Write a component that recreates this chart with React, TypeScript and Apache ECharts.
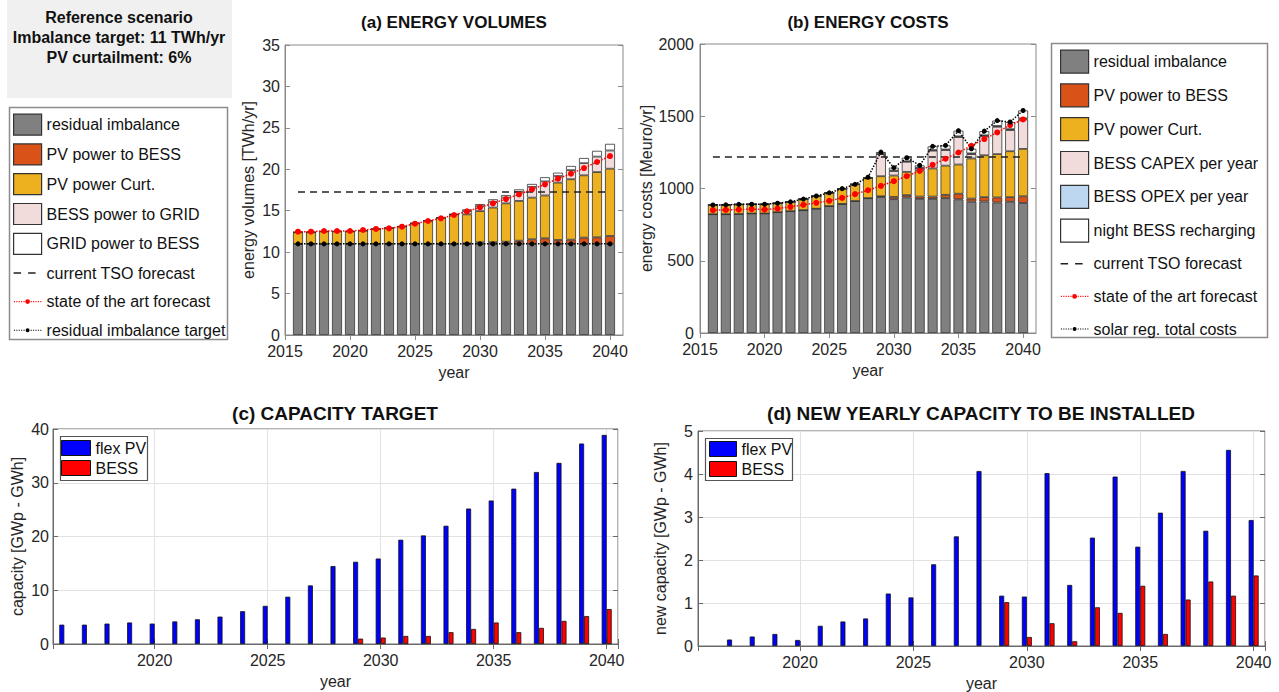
import React, { useEffect, useRef } from "react";
import * as echarts from "echarts";

// ---------- data ----------
const years = [2016, 2017, 2018, 2019, 2020, 2021, 2022, 2023, 2024, 2025, 2026, 2027, 2028,
  2029, 2030, 2031, 2032, 2033, 2034, 2035, 2036, 2037, 2038, 2039, 2040];
const catsAB = ["2015", ...years.map(String), "2041"];

// (a) energy volumes [TWh/yr]
const residualA = [11, 11, 11, 11, 11, 11, 11, 11, 11, 11, 11, 11, 11, 11, 11, 11, 11, 11, 11, 11, 11, 11, 11, 11, 11];
const pvToBessA = [0, 0, 0, 0, 0, 0, 0, 0, 0, 0, 0, 0, 0, 0.06, 0.19, 0.2, 0.26, 0.38, 0.55, 0.67, 0.47, 0.5, 0.75, 0.79, 0.95];
const curtA = [1.4, 1.4, 1.5, 1.5, 1.5, 1.6, 1.8, 1.9, 2.1, 2.48, 2.8, 3.16, 3.56, 3.5, 3.76, 4.18, 4.63, 4.8, 5.03, 5.17, 6.92, 7.3, 7.52, 7.87, 8.12];
const bessToGridA = [0, 0, 0, 0, 0, 0, 0, 0, 0, 0, 0, 0, 0, 0.4, 0.6, 0.7, 0.7, 1.1, 1.3, 1.7, 0.8, 1.1, 1.47, 1.87, 2.2];
const gridToBessA = [0, 0, 0, 0, 0, 0, 0, 0, 0, 0, 0, 0, 0, 0.2, 0.25, 0.3, 0.3, 0.3, 0.35, 0.5, 0.4, 0.5, 0.62, 0.7, 0.8];
const stateArtA = [12.47, 12.47, 12.55, 12.55, 12.55, 12.67, 12.8, 12.87, 13.07, 13.43, 13.76, 14.08, 14.48, 14.92, 15.4, 15.89, 16.41, 16.97, 17.58, 18.18, 18.87, 19.47, 20.15, 20.88, 21.6];
const targetA = [11, 11, 11, 11, 11, 11, 11, 11, 11, 11, 11, 11, 11, 11, 11, 11, 11, 11, 11, 11, 11, 11, 11, 11, 11];
const TSO_A = 17.25;

// (b) energy costs [Meuro/yr]
const residualB = [822, 822, 823, 827, 827, 836, 843, 850, 860, 878, 893, 913, 933, 941, 926, 938, 928, 928, 933, 925, 909, 910, 903, 908, 900];
const pvToBessB = [0, 0, 0, 0, 0, 0, 0, 0, 0, 0, 0, 0, 0, 5, 16, 16, 16, 16, 23, 39, 21, 30, 35, 32, 46];
const curtB = [64, 65, 67, 64, 64, 62, 65, 77, 88, 92, 106, 116, 139, 139, 148, 161, 181, 195, 202, 202, 278, 290, 300, 318, 328];
const capexB = [0, 0, 0, 0, 0, 0, 0, 0, 0, 0, 0, 0, 0, 153, 31, 70, 15, 123, 108, 190, 30, 133, 189, 146, 204];
const opexB = [0, 0, 0, 0, 0, 0, 0, 0, 0, 0, 0, 0, 0, 3, 3, 3, 3, 4, 4, 5, 5, 5, 6, 7, 7];
const nightB = [0, 0, 0, 0, 0, 0, 0, 0, 0, 0, 0, 0, 6, 11, 20, 25, 17, 26, 28, 39, 32, 29, 37, 49, 55];
const stateArtB = [850, 852, 854, 857, 854, 861, 873, 887, 901, 915, 935, 961, 988, 1018, 1051, 1085, 1122, 1164, 1206, 1249, 1296, 1342, 1388, 1439, 1478];
const TSO_B = 1218;

// (c) capacity target [GWp - GWh]
const flexPvC = [3.6, 3.6, 3.8, 4.0, 3.8, 4.2, 4.6, 5.1, 6.1, 7.1, 8.8, 10.9, 14.5, 15.3, 15.9, 19.4, 20.2, 22.0, 25.2, 26.7, 28.9, 32.0, 33.7, 37.3, 38.9];
const bessC = [0, 0, 0, 0, 0, 0, 0, 0, 0, 0, 0, 0, 0, 1.0, 1.2, 1.5, 1.5, 2.2, 2.8, 4.0, 2.2, 3.0, 4.3, 5.2, 6.5];

// (d) new yearly capacity [GWp - GWh]
const flexPvD = [0, 0.15, 0.22, 0.28, 0.14, 0.47, 0.57, 0.64, 1.22, 1.13, 1.9, 2.55, 4.07, 1.17, 1.15, 4.02, 1.42, 2.52, 3.94, 2.31, 3.1, 4.07, 2.68, 4.56, 2.93];
const bessD = [0, 0, 0, 0, 0, 0, 0, 0, 0, 0, 0, 0, 0, 1.02, 0.21, 0.53, 0.11, 0.9, 0.77, 1.4, 0.28, 1.08, 1.5, 1.17, 1.64];

// ---------- styling ----------
const FONT = '"Liberation Sans", Arial, Helvetica, sans-serif';
const GRAY = "#808080";
const ORANGE = "#D95319";
const YELLOW = "#EDB120";
const PINK = "#F2DCDB";
const LBLUE = "#BED7F0";
const EDGE = "#333333";
const AXC = "#8a8a8a";
const LBC = "#262626";

const pad = (v: number[]) => [null, ...v, null];
const is5 = (_: number, v: string) => Number(v) % 5 === 0;

function dashIcon(h: number) {
  const c = h / 2;
  return `path://M0 0L0 0M28 ${h}L28 ${h}M0 ${c - 0.8}h7.5v1.6h-7.5zM14.5 ${c - 0.8}h7.5v1.6h-7.5z`;
}
function dotIcon(h: number, r: number) {
  const c = h / 2;
  let d = `M0 0L0 0M28 ${h}L28 ${h}`;
  for (let x = 0.3; x < 27.5; x += 2.4) {
    if (Math.abs(x + 0.5 - 14) < r + 1.2) continue;
    d += `M${x.toFixed(2)} ${(c - 0.55).toFixed(2)}h1.1v1.1h-1.1z`;
  }
  d += `M${14 - r} ${c}a${r} ${r} 0 1 0 ${2 * r} 0a${r} ${r} 0 1 0 ${-2 * r} 0z`;
  return "path://" + d;
}

const nameStyle = { fontSize: 16, color: LBC, fontFamily: FONT };

function catX(gridIndex: number, top: boolean) {
  return {
    type: "category", gridIndex, position: top ? "top" : "bottom", data: catsAB, boundaryGap: false,
    axisLine: { show: !top, lineStyle: { color: AXC } },
    axisTick: { show: true, inside: true, length: 5, interval: is5, lineStyle: { color: AXC } },
    axisLabel: { show: !top, interval: is5, fontSize: 16, color: LBC, fontFamily: FONT, margin: 8 },
    splitLine: { show: false },
    name: top ? "" : "year", nameLocation: "middle", nameGap: 29, nameTextStyle: nameStyle,
  };
}
function valX(gridIndex: number, top: boolean) {
  return {
    type: "value", gridIndex, position: top ? "top" : "bottom", min: 2015.5, max: 2040.5,
    splitNumber: 5, minInterval: 5, maxInterval: 5,
    axisLine: { show: !top, lineStyle: { color: "#6a6a6a" } },
    axisTick: { show: true, inside: true, length: 5, lineStyle: { color: "#6a6a6a" } },
    axisLabel: {
      show: !top, fontSize: 16, color: LBC, fontFamily: FONT, margin: 8,
      formatter: (v: number) => (Math.abs(v - Math.round(v / 5) * 5) < 1e-6 ? String(Math.round(v)) : ""),
    },
    splitLine: { show: !top, lineStyle: { color: "#e2e2e2" } },
    name: top ? "" : "year", nameLocation: "middle", nameGap: 29, nameTextStyle: nameStyle,
  };
}
function valY(gridIndex: number, right: boolean, max: number, interval: number, name: string, gap: number, split: boolean, col: string, margin: number) {
  return {
    type: "value", gridIndex, position: right ? "right" : "left", min: 0, max, interval,
    axisLine: { show: !right, lineStyle: { color: col } },
    axisTick: { show: true, inside: true, length: 5, lineStyle: { color: col } },
    axisLabel: { show: !right, fontSize: 16, color: LBC, fontFamily: FONT, margin, formatter: (v: number) => String(v) },
    splitLine: { show: split && !right, lineStyle: { color: "#e2e2e2" } },
    name: right ? "" : name, nameLocation: "middle", nameGap: gap, nameTextStyle: nameStyle,
  };
}

function stackBar(name: string, vals: number[], color: string, xi: number, stack: string) {
  return {
    type: "bar", name, xAxisIndex: xi, yAxisIndex: xi, stack, barWidth: 10,
    data: pad(vals), itemStyle: { color, borderColor: EDGE, borderWidth: 0.8 }, z: 2,
  };
}
function dotLine(name: string, vals: (number | null)[], color: string, xi: number, size: number) {
  return {
    type: "line", name, xAxisIndex: xi, yAxisIndex: xi, data: vals, color,
    symbol: "circle", symbolSize: size, showSymbol: true,
    lineStyle: { color, type: "dotted", width: 1.5 }, itemStyle: { color }, z: 4,
  };
}
function tsoLine(value: number, xi: number) {
  return {
    type: "line", name: "current TSO forecast", xAxisIndex: xi, yAxisIndex: xi, color: "#222",
    data: pad(years.map(() => value)), symbol: "none",
    lineStyle: { color: "#222", type: [7, 5], width: 1.6 }, itemStyle: { color: "#222" }, z: 3,
  };
}
function groupBar(name: string, vals: number[], color: string, xi: number) {
  return {
    type: "bar", name, xAxisIndex: xi, yAxisIndex: xi, barWidth: 5, barGap: "0%",
    data: years.map((y, i) => (vals[i] === 0
      ? { value: [y, 0], itemStyle: { borderWidth: 0 } }
      : { value: [y, vals[i]] })),
    itemStyle: { color, borderColor: "#111", borderWidth: 0.8 },
  };
}

const totalB = years.map((_, i) => residualB[i] + pvToBessB[i] + curtB[i] + capexB[i] + opexB[i] + nightB[i]);

const rectItem = (name: string) => ({ name, icon: "rect" });
const txt = (x: number, y: number, text: string, size: number) => ({
  type: "text", z: 10, x, y,
  style: { text, font: `bold ${size}px ${FONT}`, fill: "#111", textAlign: "center", textVerticalAlign: "middle" },
});

function buildOption() {
  return {
    animation: false,
    backgroundColor: "#ffffff",
    textStyle: { fontFamily: FONT },
    grid: [
      { left: 285, top: 45, width: 338, height: 290, show: true, borderColor: AXC, borderWidth: 1, backgroundColor: "#fff" },
      { left: 700, top: 44, width: 336, height: 289, show: true, borderColor: AXC, borderWidth: 1, backgroundColor: "#fff" },
      { left: 53, top: 429, width: 565, height: 215, show: true, borderColor: "#6a6a6a", borderWidth: 1, backgroundColor: "#fff" },
      { left: 698, top: 431, width: 567, height: 215, show: true, borderColor: "#6a6a6a", borderWidth: 1, backgroundColor: "#fff" },
    ],
    xAxis: [catX(0, false), catX(1, false), valX(2, false), valX(3, false), catX(0, true), catX(1, true), valX(2, true), valX(3, true)],
    yAxis: [
      valY(0, false, 35, 5, "energy volumes [TWh/yr]", 29, false, AXC, 5),
      valY(1, false, 2000, 500, "energy costs [Meuro/yr]", 28, false, AXC, 6),
      valY(2, false, 40, 10, "capacity [GWp - GWh]", 28, true, "#6a6a6a", 4),
      valY(3, false, 5, 1, "new capacity [GWp - GWh]", 30, true, "#6a6a6a", 5),
      valY(0, true, 35, 5, "", 0, false, AXC, 5),
      valY(1, true, 2000, 500, "", 0, false, AXC, 5),
      valY(2, true, 40, 10, "", 0, false, "#6a6a6a", 5),
      valY(3, true, 5, 1, "", 0, false, "#6a6a6a", 5),
    ],
    legend: [
      {
        orient: "vertical", left: 13, top: 113.5, padding: 0, itemWidth: 28, itemHeight: 21, itemGap: 7.6,
        selectedMode: false, textStyle: { fontSize: 16, color: "#111", fontFamily: FONT },
        itemStyle: { borderWidth: 1.2 },
        data: [
          rectItem("residual imbalance"), rectItem("PV power to BESS"), rectItem("PV power Curt."),
          rectItem("BESS power to GRID"), rectItem("GRID power to BESS"),
          { name: "current TSO forecast", icon: dashIcon(21), itemStyle: { borderWidth: 0 } },
          { name: "state of the art forecast", icon: dotIcon(21, 2.4), itemStyle: { borderWidth: 0 } },
          { name: "residual imbalance target", icon: dotIcon(21, 2), itemStyle: { borderWidth: 0 } },
        ],
      },
      {
        orient: "vertical", left: 1060, top: 49.5, padding: 0, itemWidth: 28, itemHeight: 23, itemGap: 9.6,
        selectedMode: false, textStyle: { fontSize: 16, color: "#111", fontFamily: FONT },
        itemStyle: { borderWidth: 1.2 },
        data: [
          rectItem("residual imbalance"), rectItem("PV power to BESS"), rectItem("PV power Curt."),
          rectItem("BESS CAPEX per year"), rectItem("BESS OPEX per year"), rectItem("night BESS recharging"),
          { name: "current TSO forecast", icon: dashIcon(23), itemStyle: { borderWidth: 0 } },
          { name: "state of the art forecast", icon: dotIcon(23, 2.4), itemStyle: { borderWidth: 0 } },
          { name: "solar reg. total costs", icon: dotIcon(23, 2), itemStyle: { borderWidth: 0 } },
        ],
      },
      {
        orient: "vertical", left: 61, top: 440, padding: 0, itemWidth: 29, itemHeight: 15, itemGap: 4,
        selectedMode: false, textStyle: { fontSize: 16, color: "#111", fontFamily: FONT },
        itemStyle: { borderWidth: 1 },
        data: [rectItem("flex PV"), rectItem("BESS")],
      },
      {
        orient: "vertical", left: 709, top: 441, padding: 0, itemWidth: 27, itemHeight: 15, itemGap: 4,
        selectedMode: false, textStyle: { fontSize: 16, color: "#111", fontFamily: FONT },
        itemStyle: { borderWidth: 1 },
        data: [rectItem("flex PV"), rectItem("BESS")],
      },
    ],
    graphic: [
      { type: "rect", z: 1, shape: { x: 7, y: 0, width: 225, height: 98 }, style: { fill: "#f0f0f0" } },
      txt(119, 17, "Reference scenario", 16),
      txt(119, 37, "Imbalance target: 11 TWh/yr", 16),
      txt(119, 57, "PV curtailment: 6%", 16),
      { type: "rect", z: 3, shape: { x: 9.5, y: 107.5, width: 218, height: 232 }, style: { fill: "#fff", stroke: "#8c8c8c", lineWidth: 1.5 } },
      { type: "rect", z: 3, shape: { x: 1051.5, y: 43.5, width: 216, height: 294 }, style: { fill: "#fff", stroke: "#8c8c8c", lineWidth: 1.5 } },
      { type: "rect", z: 3, shape: { x: 60.5, y: 436.5, width: 87, height: 44 }, style: { fill: "#fff", stroke: "#555", lineWidth: 1.2 } },
      { type: "rect", z: 3, shape: { x: 705.5, y: 438.5, width: 87, height: 42 }, style: { fill: "#fff", stroke: "#555", lineWidth: 1.2 } },
      txt(454, 22, "(a) ENERGY VOLUMES", 17),
      txt(868, 22, "(b) ENERGY COSTS", 17),
      txt(335, 413, "(c) CAPACITY TARGET", 19),
      txt(981, 413, "(d) NEW YEARLY CAPACITY TO BE INSTALLED", 19),
    ],
    series: [
      // (a)
      stackBar("residual imbalance", residualA, GRAY, 0, "a"),
      stackBar("PV power to BESS", pvToBessA, ORANGE, 0, "a"),
      stackBar("PV power Curt.", curtA, YELLOW, 0, "a"),
      stackBar("BESS power to GRID", bessToGridA, PINK, 0, "a"),
      stackBar("GRID power to BESS", gridToBessA, "#ffffff", 0, "a"),
      tsoLine(TSO_A, 0),
      dotLine("state of the art forecast", pad(stateArtA), "#ff0000", 0, 6),
      dotLine("residual imbalance target", pad(targetA), "#000000", 0, 5),
      // (b)
      stackBar("residual imbalance", residualB, GRAY, 1, "b"),
      stackBar("PV power to BESS", pvToBessB, ORANGE, 1, "b"),
      stackBar("PV power Curt.", curtB, YELLOW, 1, "b"),
      stackBar("BESS CAPEX per year", capexB, PINK, 1, "b"),
      stackBar("BESS OPEX per year", opexB, LBLUE, 1, "b"),
      stackBar("night BESS recharging", nightB, "#ffffff", 1, "b"),
      tsoLine(TSO_B, 1),
      dotLine("state of the art forecast", pad(stateArtB), "#ff0000", 1, 6),
      dotLine("solar reg. total costs", pad(totalB), "#000000", 1, 5),
      // (c)
      groupBar("flex PV", flexPvC, "#0000ff", 2),
      groupBar("BESS", bessC, "#ff0000", 2),
      // (d)
      groupBar("flex PV", flexPvD, "#0000ff", 3),
      groupBar("BESS", bessD, "#ff0000", 3),
    ],
  };
}

export default function App() {
  const ref = useRef<HTMLDivElement>(null);
  useEffect(() => {
    if (!ref.current) return;
    const chart = echarts.init(ref.current, undefined, { renderer: "svg" });
    chart.setOption(buildOption() as any);
    return () => chart.dispose();
  }, []);
  return (
    <div
      ref={ref}
      style={{ position: "absolute", left: 0, top: 0, width: 1279, height: 692, background: "#fff" }}
    />
  );
}
